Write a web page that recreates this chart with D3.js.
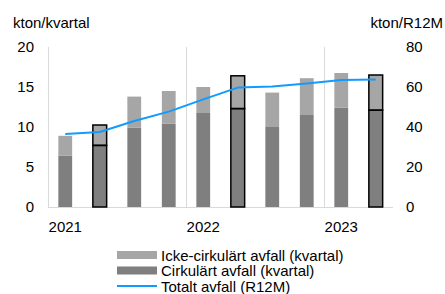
<!DOCTYPE html>
<html>
<head>
<meta charset="utf-8">
<script src="https://cdn.jsdelivr.net/npm/d3@7"></script>
<style>
  body { margin: 0; background: #fff; }
  svg { display: block; font-family: "Liberation Sans", Arial, sans-serif; }
</style>
</head>
<body>
<div id="chart_div"></div>
<script>
// quarters 2021 Q1 .. 2023 Q2
var quarters = ["2021Q1","2021Q2","2021Q3","2021Q4","2022Q1","2022Q2","2022Q3","2022Q4","2023Q1","2023Q2"];
var yearLabels = ["2021","2022","2023"];
var circular = [6.4, 7.7, 9.9, 10.4, 11.75, 12.3, 10.0, 11.5, 12.4, 12.1];
var nonCircular = [2.5, 2.55, 3.9, 4.1, 3.25, 4.1, 4.3, 4.6, 4.35, 4.4];
var totalR12M = [36.5, 37.5, 43, 47.7, 53.8, 59.7, 60.2, 61.8, 63.5, 63.8];
var highlighted = ["2021Q2","2022Q2","2023Q2"];
var leftTicks = [0, 5, 10, 15, 20];
var rightTicks = [0, 20, 40, 60, 80];

var width = 445, height = 294;
var margin = { top: 47, right: 52, bottom: 87, left: 48 };
var fontSize = 15;

var svg = d3.select("#chart_div").append("svg")
    .attr("width", width)
    .attr("height", height)
    .attr("viewBox", [0, 0, width, height]);

var x = d3.scaleBand()
    .domain(quarters)
    .range([margin.left, width - margin.right])
    .paddingInner(0.6)
    .paddingOuter(0.3);

var step = x.step();
var bandStart = d => x(d) - x.paddingInner() * step / 2;

var y = d3.scaleLinear().domain([0, 20]).range([height - margin.bottom, margin.top]);
var y2 = d3.scaleLinear().domain([0, 80]).range([height - margin.bottom, margin.top]);

// year gridlines
svg.append("g")
    .selectAll("line")
    .data(["2021Q1","2022Q1","2023Q1"])
    .join("line")
    .attr("x1", d => bandStart(d) + 0.5)
    .attr("x2", d => bandStart(d) + 0.5)
    .attr("y1", y(20))
    .attr("y2", y(0))
    .attr("stroke", "#d9d9d9")
    .attr("stroke-width", 1);

// baseline
svg.append("line")
    .attr("x1", margin.left)
    .attr("x2", width - margin.right)
    .attr("y1", y(0) + 0.5)
    .attr("y2", y(0) + 0.5)
    .attr("stroke", "#d9d9d9");

// stacked bars
var bars = svg.append("g")
    .selectAll("g")
    .data(quarters)
    .join("g");

bars.append("rect")
    .attr("x", d => x(d))
    .attr("width", x.bandwidth())
    .attr("y", (d, i) => y(circular[i]))
    .attr("height", (d, i) => y(0) - y(circular[i]))
    .attr("fill", "#7f7f7f");

bars.append("rect")
    .attr("x", d => x(d))
    .attr("width", x.bandwidth())
    .attr("y", (d, i) => y(circular[i] + nonCircular[i]))
    .attr("height", (d, i) => y(circular[i]) - y(circular[i] + nonCircular[i]))
    .attr("fill", "#a6a6a6");

// outlined quarters
var outlined = bars.filter(d => highlighted.includes(d));
outlined.append("rect")
    .attr("x", d => x(d))
    .attr("width", x.bandwidth())
    .attr("y", d => y(circular[quarters.indexOf(d)]))
    .attr("height", d => y(0) - y(circular[quarters.indexOf(d)]))
    .attr("fill", "none")
    .attr("stroke", "#000")
    .attr("stroke-width", 1.5);
outlined.append("rect")
    .attr("x", d => x(d))
    .attr("width", x.bandwidth())
    .attr("y", d => { var i = quarters.indexOf(d); return y(circular[i] + nonCircular[i]); })
    .attr("height", d => { var i = quarters.indexOf(d); return y(circular[i]) - y(circular[i] + nonCircular[i]); })
    .attr("fill", "none")
    .attr("stroke", "#000")
    .attr("stroke-width", 1.5);

// R12M line
var line = d3.line()
    .x((d, i) => x(quarters[i]) + x.bandwidth() / 2)
    .y(d => y2(d));

svg.append("path")
    .datum(totalR12M)
    .attr("fill", "none")
    .attr("stroke", "#129bff")
    .attr("stroke-width", 2)
    .attr("stroke-linejoin", "round")
    .attr("d", line);

// left axis
svg.append("g")
    .attr("transform", `translate(${margin.left - 14},0)`)
    .call(d3.axisLeft(y).tickValues(leftTicks).tickSize(0).tickPadding(0))
    .call(g => g.select(".domain").remove())
    .call(g => g.selectAll("text")
        .attr("font-size", fontSize)
        .attr("font-family", "Liberation Sans, Arial, sans-serif")
        .attr("fill", "#000"));

// right axis
svg.append("g")
    .attr("transform", `translate(${width - margin.right + 13},0)`)
    .call(d3.axisRight(y2).tickValues(rightTicks).tickSize(0).tickPadding(0))
    .call(g => g.select(".domain").remove())
    .call(g => g.selectAll("text")
        .attr("font-size", fontSize)
        .attr("font-family", "Liberation Sans, Arial, sans-serif")
        .attr("fill", "#000"));

// year labels
svg.append("g")
    .selectAll("text")
    .data(yearLabels)
    .join("text")
    .attr("x", d => x(d + "Q1") + x.bandwidth() / 2)
    .attr("y", y(0) + 25)
    .attr("text-anchor", "middle")
    .attr("font-size", fontSize)
    .text(d => d);

// axis titles
svg.append("text")
    .attr("x", 13)
    .attr("y", 28)
    .attr("font-size", fontSize)
    .text("kton/kvartal");

svg.append("text")
    .attr("x", 443)
    .attr("y", 28)
    .attr("text-anchor", "end")
    .attr("font-size", fontSize)
    .text("kton/R12M");

// legend
var legendItems = [
    { label: "Icke-cirkulärt avfall (kvartal)", type: "rect", color: "#a6a6a6" },
    { label: "Cirkulärt avfall (kvartal)", type: "rect", color: "#7f7f7f" },
    { label: "Totalt avfall (R12M)", type: "line", color: "#129bff" }
];

var legend = svg.append("g")
    .selectAll("g")
    .data(legendItems)
    .join("g")
    .attr("transform", (d, i) => `translate(117,${255 + i * 15.5})`);

legend.filter(d => d.type === "rect").append("rect")
    .attr("x", 0).attr("y", -4)
    .attr("width", 40).attr("height", 8)
    .attr("fill", d => d.color);

legend.filter(d => d.type === "line").append("line")
    .attr("x1", 0).attr("x2", 40)
    .attr("y1", 0).attr("y2", 0)
    .attr("stroke", d => d.color)
    .attr("stroke-width", 2);

legend.append("text")
    .attr("x", 44)
    .attr("y", 5.5)
    .attr("font-size", fontSize)
    .text(d => d.label);
</script>
</body>
</html>
